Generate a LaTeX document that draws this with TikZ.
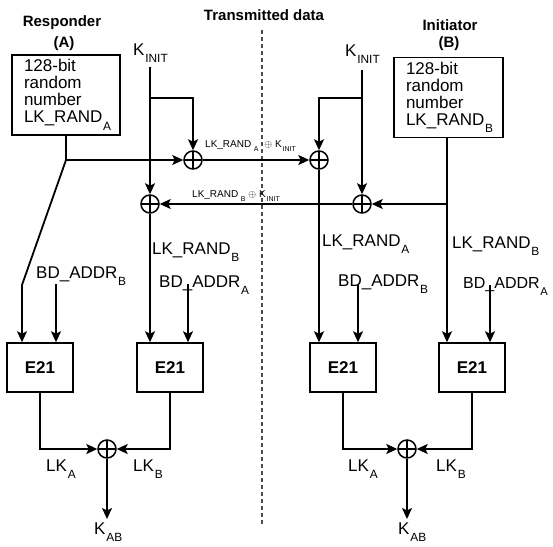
\documentclass[tikz,border=0pt]{standalone}
\usepackage{fontspec}
\setmainfont{Liberation Sans}
\usetikzlibrary{arrows.meta}
\newcommand\sbx[1]{\kern0.8pt\raisebox{-0.45em}{\scalebox{0.7}{#1}}}
\begin{document}
\begin{tikzpicture}[x=1pt,y=-1pt,
  every node/.style={font=\fontsize{17}{17}\selectfont},
  lbl/.style={inner sep=0pt, anchor=base west},
  hdr/.style={inner sep=0pt, font=\fontsize{15}{17}\selectfont\bfseries},
  rnd/.style={draw, line width=1.8pt, minimum height=80pt, align=left, inner xsep=12pt},
  ebox/.style={draw, line width=1.5pt, minimum width=66pt, minimum height=49pt, font=\fontsize{17}{17}\selectfont\bfseries},
  xr/.style={circle, draw, line width=1.5pt, minimum size=18pt, inner sep=0pt,
    path picture={\draw[line width=1.5pt] (path picture bounding box.north) -- (path picture bounding box.south) (path picture bounding box.west) -- (path picture bounding box.east);}},
  ln/.style={line width=1.8pt},
  arr/.style={ln, -{Stealth[length=11pt,width=10pt,inset=2.5pt]}},
  small/.style={inner sep=0pt, anchor=base west, font=\fontsize{10}{12}\selectfont},
  sepline/.style={line width=1.3pt, dash pattern=on 4pt off 3pt, black!70}
]
\useasboundingbox (0,0) rectangle (553,546);

% separator
\coordinate (dtop) at (262,30);
\coordinate (dbot) at (262,524);
\draw[sepline] (dtop) -- (dbot);

% headers
\node[hdr] (title) at (264,15) {Transmitted data};
\node[hdr] (resp) at (62,23) {Responder};
\node[hdr] (respA) at (64,44) {(A)};
\node[hdr] (init) at (450,25) {Initiator};
\node[hdr] (initB) at (449,44) {(B)};

% random number boxes
\node[rnd, minimum width=108pt, text width=84pt] (boxA) at (66,95) {128-bit\\random\\number\\LK\_RAND\sbx{A}};
\node[rnd, minimum width=109pt, text width=85pt] (boxB) at (448.5,97.5) {128-bit\\random\\number\\LK\_RAND\sbx{B}};

% K_INIT labels
\node[lbl] (kinA) at (133,55) {K\sbx{INIT}};
\node[lbl] (kinB) at (345,56) {K\sbx{INIT}};

% xor nodes
\node[xr] (xA1) at (193,160) {};
\node[xr] (xA2) at (150,204) {};
\node[xr] (xB1) at (319,160) {};
\node[xr] (xB2) at (362,204) {};
\node[xr] (xOA) at (107,449) {};
\node[xr] (xOB) at (407,449) {};

% E21 boxes
\node[ebox] (e1) at (40,367.5) {E21};
\node[ebox] (e2) at (170,367.5) {E21};
\node[ebox] (e3) at (343,367.5) {E21};
\node[ebox] (e4) at (472,367.5) {E21};

% coordinates
\coordinate (jA) at (66,160);
\coordinate (d1) at (22,285);
\coordinate (kAt) at (150,67);
\coordinate (bA) at (150,98);
\coordinate (kBt) at (362,70);
\coordinate (bB) at (362,98);
\coordinate (jB) at (447,204);
\coordinate (a1) at (56,284);
\coordinate (a2) at (188,284);
\coordinate (a3) at (358,285);
\coordinate (a4) at (490,285);
\coordinate (kabA) at (107,519);
\coordinate (kabB) at (407,519);

% responder side
\draw[arr] (boxA.south) |- (xA1);
\draw[arr] (jA) -- (d1) -- (d1 |- e1.north);
\draw[arr] (xA1) -- (xB1);
\draw[arr] (kAt) -- (xA2);
\draw[arr] (bA) -| (xA1);
\draw[arr] (xA2) -- (xA2 |- e2.north);
\draw[arr] (a1) -- (a1 |- e1.north);
\draw[arr] (a2) -- (a2 |- e2.north);

% initiator side
\draw[arr] (kBt) -- (xB2);
\draw[arr] (bB) -| (xB1);
\draw[arr] (xB1) -- (xB1 |- e3.north);
\draw[ln] (boxB.south -| jB) -- (jB);
\draw[arr] (jB) -- (xB2);
\draw[arr] (xB2) -- (xA2);
\draw[arr] (jB) -- (jB |- e4.north);
\draw[arr] (a3) -- (a3 |- e3.north);
\draw[arr] (a4) -- (a4 |- e4.north);

% outputs
\draw[arr] (e1.south) |- (xOA);
\draw[arr] (e2.south) |- (xOA);
\draw[arr] (xOA) -- (kabA);
\draw[arr] (e3.south) |- (xOB);
\draw[arr] (e4.south) |- (xOB);
\draw[arr] (xOB) -- (kabB);

% transmitted labels
\node[small] (tA) at (205,147) {LK\_RAND\,\sbx{A}\hspace{6pt}$\oplus$\hspace{3pt}K\sbx{INIT}};
\node[small] (tB) at (192,197) {LK\_RAND\,\sbx{B}\hspace{3pt}$\oplus$\hspace{3pt}K\sbx{INIT}};

% input labels
\node[lbl] (lrBl) at (152,254) {LK\_RAND\sbx{B}};
\node[lbl] (bdBl) at (36,278) {BD\_ADDR\sbx{B}};
\node[lbl] (bdAl) at (159,287) {BD\_ADDR\sbx{A}};
\node[lbl] (lrAr) at (322,246) {LK\_RAND\sbx{A}};
\node[lbl] (bdBr) at (338,286) {BD\_ADDR\sbx{B}};
\node[lbl] (lrBr) at (452,248) {LK\_RAND\sbx{B}};
\node[lbl, font=\fontsize{16}{16}\selectfont] (bdAr) at (463,288) {BD\_ADDR\sbx{A}};

% output labels
\node[lbl] (lkAl) at (46,471) {LK\sbx{A}};
\node[lbl] (lkBl) at (133,471) {LK\sbx{B}};
\node[lbl] (lkAr) at (348,471) {LK\sbx{A}};
\node[lbl] (lkBr) at (436,471) {LK\sbx{B}};
\node[lbl] (kabl) at (94,534) {K\sbx{AB}};
\node[lbl] (kabr) at (398,534) {K\sbx{AB}};
\end{tikzpicture}
\end{document}
